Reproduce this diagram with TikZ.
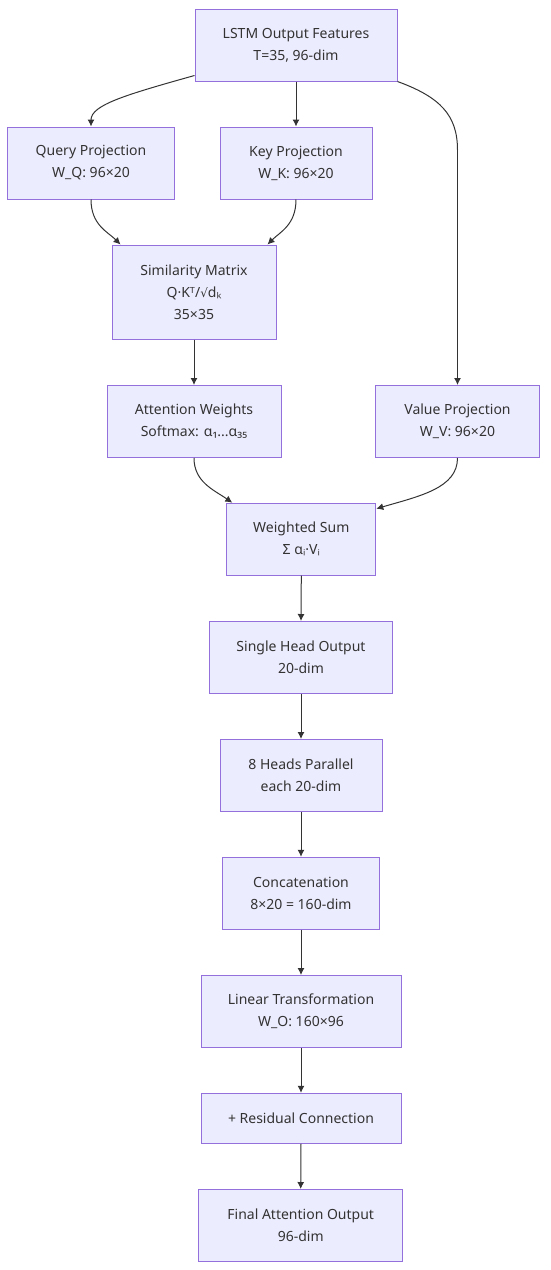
\documentclass[tikz,border=0pt]{standalone}
\usepackage{fontspec}
\setmainfont{Noto Sans}
\newfontfamily\simbolo{DejaVu Sans}
\usepackage{xcolor}
\usetikzlibrary{arrows.meta}
\definecolor{fundo}{HTML}{ECECFF}
\definecolor{borda}{HTML}{9370DB}
\definecolor{linha}{HTML}{333333}

\begin{document}
\begin{tikzpicture}[x=1pt, y=-1pt]
        \tikzstyle{caixa}=[fill=fundo, draw=borda, line width=1pt, align=center, text=linha, inner sep=0pt, font=\fontsize{14}{22}\selectfont, minimum height=72pt]
        \tikzstyle{seta}=[draw=linha, line width=1pt, -{Latex[length=7pt, width=7pt]}]

        \useasboundingbox (0,0) rectangle (550,1270);

        \node (lstm) at (296,45)[caixa, minimum width=202pt]{LSTM Output Features\\T=35, 96-dim};
        \node (query) at (91,163)[caixa, minimum width=167pt]{Query Projection\\W\_Q: 96×20};
        \node (key) at (296,163)[caixa, minimum width=152pt]{Key Projection\\W\_K: 96×20};
        \node (sim) at (194,292)[caixa, minimum width=164pt, minimum height=94pt]{Similarity Matrix\\Q·Kᵀ/{\simbolo\fontsize{12}{22}\selectfont √}dₖ\\35×35};
        \node (att) at (194,421.5)[caixa, minimum width=174pt]{Attention Weights\\Softmax: α₁...α₃₅};
        \node (val) at (457.5,421.5)[caixa, minimum width=164pt]{Value Projection\\W\_V: 96×20};
        \node (wsum) at (301.3,539.2)[caixa, minimum width=149pt]{Weighted Sum\\Σ αᵢ·Vᵢ};
        \node (single) at (301,657.5)[caixa, minimum width=183pt]{Single Head Output\\20-dim};
        \node (heads) at (301,775.5)[caixa, minimum width=162pt]{8 Heads Parallel\\each 20-dim};
        \node (concat) at (301,893.3)[caixa, minimum width=157pt]{Concatenation\\8×20 = 160-dim};
        \node (linear) at (301,1011.5)[caixa, minimum width=200pt]{Linear Transformation\\W\_O: 160×96};
        \node (resid) at (301,1118.3)[caixa, minimum width=200pt, minimum height=50pt]{+ Residual Connection};
        \node (final) at (300.7,1225.5)[caixa, minimum width=204pt]{Final Attention Output\\96-dim};

        \coordinate (curvaV) at (457.5,150);

        % ramos a partir do LSTM
        \draw[seta] ([yshift=6pt]lstm.south west) .. controls (125,95) and (91,105) .. (query.north);
        \draw[seta] (lstm.south) -- (key.north);
        \draw[linha, line width=1pt] (lstm.south east) .. controls (440,97) and (457.5,115) .. (curvaV);
        \draw[seta] (curvaV) -- (val.north);

        \draw[seta] (query.south) .. controls (91,225) and (108,232) .. ([xshift=9pt]sim.north west);
        \draw[seta] (key.south) .. controls (296,225) and (280,232) .. ([xshift=-9pt]sim.north east);
        \draw[seta] (sim.south) -- (att.north);

        \draw[seta] (att.south) .. controls (194,482) and (214,490) .. ([xshift=6pt]wsum.north west);
        \draw[seta] (val.south) .. controls (457.5,488) and (420,496) .. ([yshift=-6pt]wsum.north east);

        % coluna central
        \draw[seta] (wsum.south) -- (single.north);
        \draw[seta] (single.south) -- (heads.north);
        \draw[seta] (heads.south) -- (concat.north);
        \draw[seta] (concat.south) -- (linear.north);
        \draw[seta] (linear.south) -- (resid.north);
        \draw[seta] (resid.south) -- (final.north);
      \end{tikzpicture}
\end{document}
